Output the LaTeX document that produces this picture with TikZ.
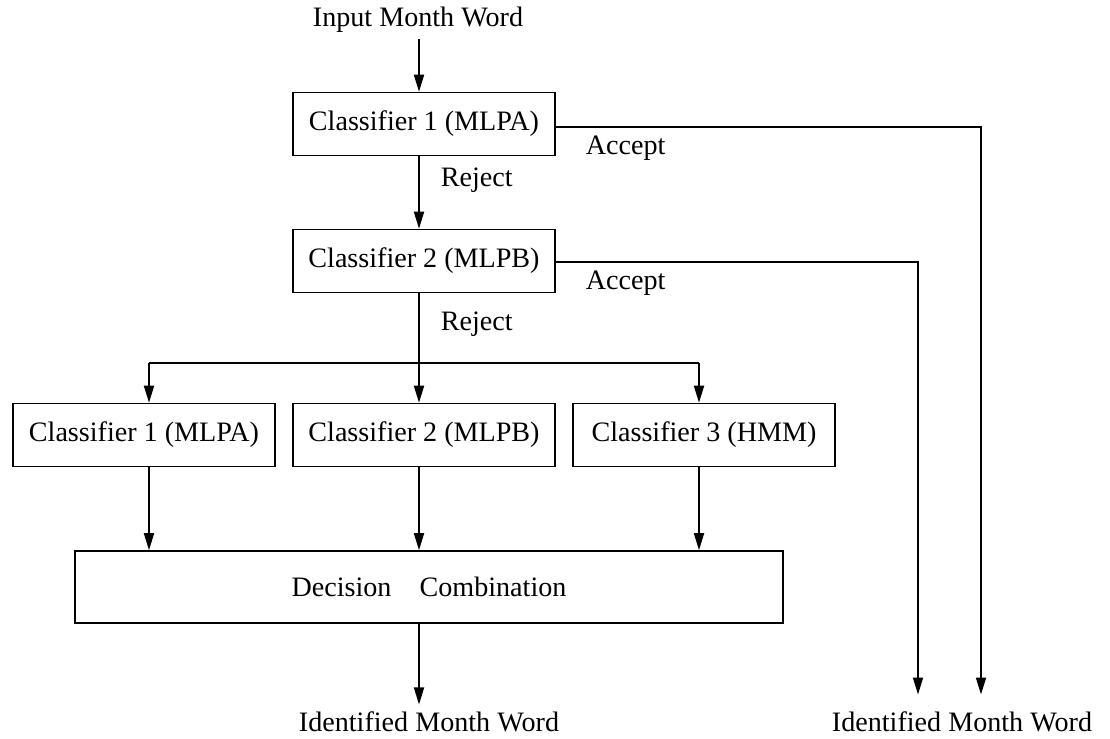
\documentclass[tikz,border=0pt]{standalone}
\usepackage{fontspec}
\setmainfont{Liberation Serif}
\usetikzlibrary{arrows.meta}

\begin{document}
\begin{tikzpicture}[x=0.02cm, y=-0.02cm, line width=1pt,
		font=\fontsize{16}{19}\selectfont,
		box/.style={draw, line width=0.9pt, minimum width=5.25cm, minimum height=1.26cm, inner sep=0pt},
		lbl/.style={anchor=west, inner sep=0pt},
		arr/.style={-{Triangle[length=0.34cm, width=0.2cm]}}]
			\useasboundingbox (0,0) rectangle (1110,738);

			% boxes
			\node (in) at (418,20) {Input Month Word};
			\node[box] (c1) at (424,124) {Classifier 1 (MLPA)};
			\node[box] (c2) at (424,261) {Classifier 2 (MLPB)};
			\node[box] (ba) at (144,435) {Classifier 1 (MLPA)};
			\node[box] (bb) at (424,435) {Classifier 2 (MLPB)};
			\node[box] (bc) at (704,435) {Classifier 3 (HMM)};
			\node[box, minimum width=14.16cm, minimum height=1.44cm] (dec) at (429,587) {Decision\quad Combination};
			\node[anchor=base] (out1) at (429,731) {Identified Month Word};
			\node[anchor=base, inner ysep=9pt] (out2) at (962,731) {Identified Month Word};

			% line labels
			\node[lbl] (rej1) at (440,180) {Reject};
			\node[lbl] (rej2) at (440,324) {Reject};
			\node[lbl] (acc1) at (585,148) {Accept};
			\node[lbl] (acc2) at (585,283) {Accept};

			% corners
			\coordinate (ja) at (149,363);
			\coordinate (jb) at (419,363);
			\coordinate (jc) at (699,363);
			\coordinate (ra) at (981,127);
			\coordinate (rb) at (918,262);

			% reject path
			\draw[arr] (in.south -| jb) -- (c1.north -| jb);
			\draw[arr] (c1.south -| jb) -- (c2.north -| jb);
			\draw (c2.south -| jb) -- (jb);
			\draw (ja) -- (jc);
			\draw[arr] (ja) -- (ja |- ba.north);
			\draw[arr] (jb) -- (jb |- bb.north);
			\draw[arr] (jc) -- (jc |- bc.north);
			\draw[arr] (ba.south -| ja) -- (dec.north -| ja);
			\draw[arr] (bb.south -| jb) -- (dec.north -| jb);
			\draw[arr] (bc.south -| jc) -- (dec.north -| jc);
			\draw[arr] (dec.south -| jb) -- (jb |- out1.north);

			% accept paths
			\draw[arr] (c1.east |- ra) -- (ra) -- (ra |- out2.north);
			\draw[arr] (c2.east |- rb) -- (rb) -- (rb |- out2.north);
		\end{tikzpicture}
\end{document}
